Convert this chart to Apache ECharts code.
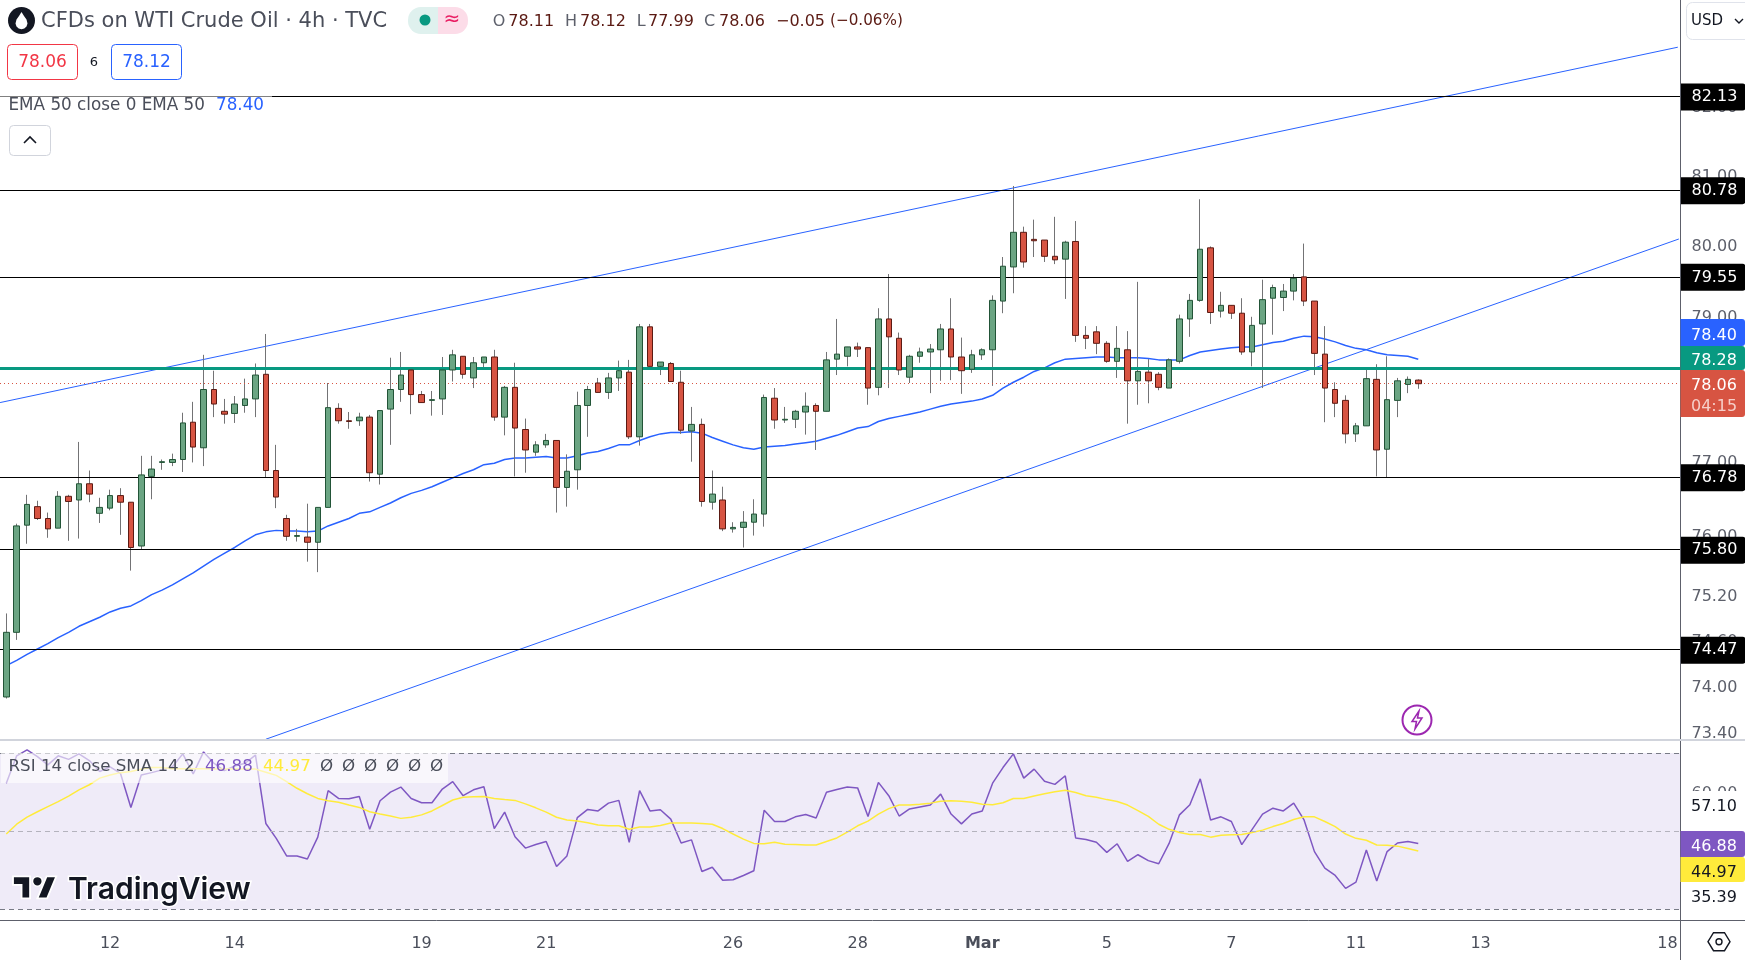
<!DOCTYPE html>
<html>
<head>
<meta charset="utf-8">
<title>CFDs on WTI Crude Oil</title>
<script src="https://cdn.jsdelivr.net/npm/echarts@6/dist/echarts.min.js"></script>
<style>
html, body { margin: 0; padding: 0; background: #fff; }
#chart { width: 1745px; height: 960px; }
</style>
</head>
<body>
<div id="chart"></div>
<script>
// open, close, low, high of each 4h bar
const candles = [
  [73.85,74.70,73.83,74.95],[74.70,76.12,74.60,76.15],[76.13,76.41,75.88,76.54],[76.38,76.22,76.20,76.46],
  [76.22,76.08,75.96,76.30],[76.09,76.52,76.09,76.59],[76.52,76.45,75.92,76.54],[76.47,76.69,75.95,77.26],
  [76.69,76.55,76.44,76.87],[76.29,76.37,76.16,76.50],[76.36,76.53,76.33,76.61],[76.53,76.44,76.00,76.63],
  [76.44,75.83,75.52,76.44],[75.85,76.81,75.80,77.07],[76.79,76.89,76.48,77.07],[76.98,76.99,76.88,77.02],
  [76.98,77.02,76.93,77.10],[77.02,77.52,76.85,77.66],[77.53,77.19,76.98,77.81],[77.18,77.98,76.93,78.46],
  [77.98,77.78,77.60,78.24],[77.68,77.64,77.51,77.85],[77.65,77.78,77.52,77.89],[77.76,77.85,77.66,78.13],
  [77.85,78.18,77.60,78.34],[78.19,76.87,76.77,78.75],[76.87,76.51,76.36,77.22],[76.22,75.98,75.92,76.27],
  [75.98,75.99,75.91,76.08],[75.97,75.90,75.64,76.42],[75.90,76.37,75.50,76.37],[76.37,77.73,76.37,78.07],
  [77.72,77.55,77.51,77.79],[77.55,77.54,77.44,77.67],[77.55,77.60,77.48,77.66],[77.60,76.84,76.72,77.63],
  [76.82,77.69,76.68,77.69],[77.71,77.98,77.22,78.42],[77.98,78.18,77.81,78.50],[78.25,77.91,77.64,78.25],
  [77.91,77.80,77.80,77.96],[77.83,77.84,77.62,77.96],[77.85,78.25,77.63,78.43],[78.25,78.46,78.09,78.53],
  [78.44,78.19,78.13,78.44],[78.14,78.35,78.00,78.43],[78.35,78.43,78.25,78.43],[78.43,77.60,77.55,78.53],
  [77.60,78.01,77.35,78.03],[78.01,77.45,76.79,78.35],[77.43,77.15,76.84,77.58],[77.12,77.22,77.07,77.27],
  [77.22,77.28,77.18,77.37],[77.28,76.64,76.30,77.28],[76.64,76.86,76.38,77.09],[76.88,77.76,76.61,77.95],
  [77.76,77.98,77.33,78.03],[78.07,77.94,77.94,78.14],[77.94,78.14,77.85,78.21],[78.14,78.24,77.96,78.38],
  [78.22,77.33,77.30,78.39],[77.33,78.85,77.21,78.89],[78.85,78.30,78.30,78.89],[78.30,78.36,78.18,78.36],
  [78.34,78.09,78.09,78.36],[78.08,77.42,77.37,78.24],[77.41,77.50,76.99,77.74],[77.50,76.45,76.38,77.58],
  [76.44,76.55,76.34,76.87],[76.47,76.08,76.05,76.65],[76.08,76.10,76.03,76.17],[76.10,76.17,75.83,76.32],
  [76.17,76.28,75.99,76.48],[76.28,77.87,76.11,77.91],[77.86,77.56,77.44,78.00],[77.56,77.57,77.52,77.74],
  [77.57,77.68,77.45,77.70],[77.67,77.75,77.36,77.94],[77.76,77.68,77.15,77.79],[77.68,78.39,77.68,78.50],
  [78.40,78.47,78.18,78.96],[78.44,78.57,78.30,78.57],[78.57,78.54,78.43,78.63],[78.56,78.00,77.77,78.56],
  [78.01,78.96,77.90,79.11],[78.96,78.71,78.00,79.59],[78.69,78.25,78.18,78.77],[78.15,78.44,78.07,78.46],
  [78.44,78.50,78.35,78.56],[78.50,78.54,77.93,78.61],[78.53,78.82,78.10,78.89],[78.82,78.43,78.11,79.25],
  [78.43,78.24,77.92,78.70],[78.26,78.46,78.21,78.53],[78.46,78.53,78.39,78.55],[78.53,79.22,78.03,79.29],
  [79.21,79.70,79.04,79.83],[79.69,80.18,79.32,80.84],[80.18,79.76,79.68,80.26],[80.08,80.06,79.83,80.36],
  [80.07,79.84,79.76,80.07],[79.84,79.79,79.73,80.40],[79.80,80.04,79.24,80.06],[80.05,78.73,78.64,80.34],
  [78.73,78.69,78.54,78.86],[78.78,78.62,78.47,78.86],[78.62,78.37,78.35,78.65],[78.37,78.55,78.14,78.86],
  [78.53,78.10,77.51,78.79],[78.10,78.23,77.77,79.48],[78.22,78.10,77.79,78.40],[78.19,78.01,77.97,78.22],
  [78.00,78.39,78.00,78.41],[78.37,78.96,78.34,79.02],[78.96,79.22,78.71,79.31],[79.22,79.94,79.20,80.65],
  [79.96,79.05,78.89,79.98],[79.07,79.15,78.98,79.34],[79.15,79.04,78.96,79.15],[79.04,78.50,78.46,79.25],
  [78.50,78.87,78.30,78.99],[78.89,79.23,78.00,79.51],[79.25,79.40,78.74,79.44],[79.26,79.35,79.07,79.45],
  [79.35,79.53,79.22,79.59],[79.55,79.21,79.14,80.02],[79.21,78.48,78.18,79.21],[78.47,78.00,77.53,78.86],
  [77.98,77.79,77.60,78.08],[77.83,77.37,77.24,77.90],[77.37,77.48,77.26,77.52],[77.48,78.13,77.48,78.29],
  [78.12,77.15,76.79,78.33],[77.16,77.84,76.77,78.44],[77.83,78.10,77.60,78.14],[78.05,78.12,77.93,78.16],
  [78.11,78.06,77.99,78.12]
];

const ema50 = [
  74.26,74.33,74.41,74.48,74.55,74.63,74.70,74.78,74.84,74.90,74.97,75.02,75.05,75.12,75.20,75.26,
  75.33,75.41,75.49,75.58,75.67,75.75,75.83,75.92,76.00,76.04,76.06,76.05,76.05,76.04,76.05,76.12,
  76.17,76.22,76.29,76.31,76.37,76.43,76.50,76.56,76.60,76.65,76.71,76.77,76.83,76.88,76.95,76.97,
  77.02,77.04,77.04,77.05,77.06,77.04,77.04,77.07,77.11,77.13,77.17,77.22,77.22,77.28,77.33,77.37,
  77.39,77.39,77.40,77.38,77.32,77.27,77.22,77.18,77.16,77.19,77.20,77.21,77.23,77.25,77.27,77.31,
  77.35,77.40,77.45,77.47,77.54,77.58,77.61,77.64,77.67,77.71,77.75,77.78,77.80,77.82,77.85,77.90,
  78.00,78.08,78.15,78.23,78.28,78.35,78.40,78.41,78.42,78.43,78.43,78.42,78.42,78.42,78.41,78.39,
  78.39,78.39,78.45,78.50,78.52,78.54,78.56,78.57,78.57,78.60,78.63,78.65,78.69,78.72,78.71,78.68,
  78.64,78.59,78.55,78.53,78.49,78.46,78.45,78.44,78.40
];

const rsi14 = [
  62.3,69.3,70.8,69.1,67.0,69.3,68.4,69.8,68.1,65.3,66.5,64.8,56.1,64.4,65.0,65.7,
  66.5,69.8,64.7,70.3,67.4,65.5,66.7,67.4,69.5,52.0,48.2,43.7,43.7,42.9,48.5,60.4,
  58.4,58.3,58.9,50.5,57.8,60.0,61.3,58.4,57.3,57.3,60.8,62.7,59.1,60.6,61.4,50.7,
  54.9,48.6,45.7,46.6,47.4,41.0,43.7,53.5,55.6,55.2,57.2,57.9,47.2,60.4,55.2,55.5,
  53.1,47.0,47.8,39.7,40.8,37.5,37.6,38.7,39.9,55.4,52.5,52.5,53.7,54.3,53.4,60.0,
  60.7,61.3,61.1,53.8,62.5,59.1,53.9,55.7,56.2,56.7,59.5,54.4,51.9,54.4,55.2,62.3,
  66.3,69.8,63.6,65.9,62.8,62.0,64.2,48.3,47.9,47.2,44.6,46.8,42.3,44.0,42.5,41.7,
  46.9,54.2,56.8,63.4,52.9,53.7,52.5,46.6,50.5,54.4,55.9,55.2,57.2,52.9,44.8,40.6,
  38.7,35.4,37.0,45.2,37.3,44.8,47.0,47.4,46.88
];

const rsiSma = [
  49.3,51.8,53.6,55.0,56.3,57.6,59.0,60.6,61.9,63.6,64.4,65.0,65.3,65.9,66.3,66.3,
  66.0,66.0,66.0,66.0,65.9,65.9,65.9,65.9,65.9,65.1,64.3,62.7,61.0,59.6,58.4,57.8,
  57.4,56.7,56.1,55.0,54.4,53.9,53.3,53.6,54.2,55.2,56.6,58.0,58.7,58.8,58.9,58.4,
  58.1,57.9,57.0,56.0,54.9,53.6,52.9,52.6,52.2,51.6,51.4,51.4,50.5,51.1,51.1,51.5,
  52.1,52.1,52.1,52.0,51.8,50.7,49.3,48.0,46.9,46.8,47.2,46.7,46.6,46.5,46.5,47.4,
  48.3,49.8,51.4,52.6,54.4,55.8,56.7,56.7,56.9,57.2,57.7,57.8,57.7,57.4,56.9,56.8,
  57.3,58.4,58.4,59.0,59.6,60.1,60.5,59.9,59.1,58.7,58.1,57.6,56.7,55.3,53.8,51.8,
  50.5,49.7,49.2,49.2,48.5,49.0,49.1,49.2,49.7,50.3,51.2,52.0,53.0,53.7,53.7,52.5,
  51.2,49.3,48.2,47.7,46.5,46.4,46.2,45.6,44.97
];

const supportLevels = [82.13, 80.78, 79.55, 76.78, 75.80, 74.47];
const pivotLevel = 78.28;
const lastPrice = 78.06;
const priceTicks = [82, 81, 80, 79, 77, 76, 75.2, 74.6, 74, 73.4];
const rsiTicks = [60];
const rsiBands = [70, 50, 30];

// channel lines, [bar index, price]
const channelUpper = [[-0.6, 77.80], [161, 82.85]];
const channelLower = [[25, 73.30], [161.1, 80.085]];

const timeTickBars = [10, 22, 40, 52, 70, 82, 94, 106, 118, 130, 142, 160];
const timeTickText = ['12', '14', '19', '21', '26', '28', 'Mar', '5', '7', '11', '13', '18'];

const FONT = '"DejaVu Sans", sans-serif';
const X_MIN = -0.607;
const X_MAX = 161.21;
const chart = echarts.init(document.getElementById('chart'));

function txt(text, x, y, fill, size, align, z) {
  // DejaVu sits a little high when centred, so nudge it down
  return {
    type: 'text', x: x, y: y + 3, z: z || 110, silent: true,
    style: { text: text, fill: fill, font: (size || 16) + 'px ' + FONT, align: align || 'left', verticalAlign: 'middle' }
  };
}
function box(x, y, w, h, fill, stroke, r, z) {
  return {
    type: 'rect', z: z || 100, silent: true,
    shape: { x: x, y: y, width: w, height: h, r: r || 0 },
    style: { fill: fill, stroke: stroke || null, lineWidth: stroke ? 1 : 0 }
  };
}
function rule(x1, y1, x2, y2, color, width, z) {
  return {
    type: 'line', z: z || 90, silent: true,
    shape: { x1: x1, y1: y1, x2: x2, y2: y2 },
    style: { stroke: color, lineWidth: width }
  };
}
function poly(kind, pts, x, y, style, z, scale) {
  return {
    type: kind, z: z || 110, silent: true, x: x, y: y, scaleX: scale || 1, scaleY: scale || 1,
    shape: { points: pts }, style: style
  };
}
function tag(text, top, h, bg, fg) {
  return [
    box(1680.5, top, 64.5, h, bg, null, [0, 3, 3, 0]),
    txt(text, 1691, top + h / 2, fg)
  ];
}
// labels hung on the right edge of a pane, placed by the y scale
function edgeLabels(name, axisIndex, values, z, label) {
  return {
    name: name, type: 'scatter', xAxisIndex: axisIndex, yAxisIndex: axisIndex, z: z, silent: true, clip: false,
    symbolSize: 1, itemStyle: { color: 'rgba(0,0,0,0)', opacity: 1 },
    label: Object.assign({ show: true, position: 'right', distance: 0, fontSize: 16, fontFamily: FONT, formatter: '{b}' }, label),
    data: values.map(function (v) { return { value: [X_MAX, v], name: v.toFixed(2) }; })
  };
}

const chrome = [].concat(
  // axes and pane borders
  rule(1680.5, 0, 1680.5, 960, '#5d606b', 1),
  rule(0, 740, 1745, 740, '#d1d4dc', 2),
  rule(0, 920.5, 1745, 920.5, '#5d606b', 1),

  // header
  { type: 'circle', z: 110, silent: true, shape: { cx: 21.5, cy: 20.5, r: 13.5 }, style: { fill: '#131722' } },
  poly('polygon', [[0, -9], [2.5, -5], [5, -1.5], [6, 2.5], [5, 5.5], [2.8, 7.5], [0, 8.3], [-2.8, 7.5], [-5, 5.5], [-6, 2.5], [-5, -1.5], [-2.5, -5]], 21.5, 21, { fill: '#fff' }),
  txt('CFDs on WTI Crude Oil \u00b7 4h \u00b7 TVC', 41, 19, '#4a4e5a', 21),
  box(408, 7, 30, 27, '#dff1ee', null, [13, 0, 0, 13]),
  box(438, 7, 30, 27, '#fcdce8', null, [0, 13, 13, 0]),
  { type: 'circle', z: 110, silent: true, shape: { cx: 425, cy: 20, r: 5.5 }, style: { fill: '#089981' } },
  txt('\u2248', 452, 17, '#e91e63', 20, 'center'),
  txt('O', 492.7, 18.5, '#5d606b'), txt('78.11', 508.3, 18.5, '#5b1a13'),
  txt('H', 565, 18.5, '#5d606b'), txt('78.12', 580, 18.5, '#5b1a13'),
  txt('L', 636.7, 18.5, '#5d606b'), txt('77.99', 648, 18.5, '#5b1a13'),
  txt('C', 704, 18.5, '#5d606b'), txt('78.06', 719, 18.5, '#5b1a13'),
  txt('\u22120.05', 776, 18.5, '#5b1a13'), txt('(\u22120.06%)', 830, 18.5, '#5b1a13', 15.2),
  box(7.5, 44.5, 70, 35, '#fff', '#f23645', 4),
  txt('78.06', 42.5, 59.5, '#f23645', 17, 'center'),
  txt('6', 94, 59.5, '#131722', 13, 'center'),
  box(111.5, 44.5, 70, 35, '#fff', '#2962ff', 4),
  txt('78.12', 146.5, 59.5, '#2962ff', 17, 'center'),

  // indicator legend sits on a veil over the 82.13 line
  box(0, 90, 272, 28, 'rgba(255,255,255,0.5)'),
  txt('EMA 50 close 0 EMA 50', 8.5, 102.5, '#4a4e5a', 16.8),
  txt('78.40', 216, 102.5, '#2962ff', 16.8),
  box(9.5, 125.5, 41, 30, '#fff', '#d1d4dc', 4),
  poly('polyline', [[-6, 3], [0, -3], [6, 3]], 30, 140, { fill: null, stroke: '#131722', lineWidth: 1.6 }),

  // currency selector
  box(1686.5, 2.5, 70, 37, '#fff', '#e0e3eb', 6),
  txt('USD', 1691, 18.5, '#131722', 15),
  poly('polyline', [[-4, -2], [0, 2], [4, -2]], 1739, 21, { fill: null, stroke: '#131722', lineWidth: 1.4 }),

  // price tags that were pushed off their value by their neighbours
  tag('78.40', 319, 27, '#2962ff', '#fff'),
  tag('78.28', 346, 24, '#089981', '#fff'),
  box(1680.5, 370, 64.5, 47, '#d75442', null, [0, 3, 3, 0]),
  txt('78.06', 1691, 383, '#fff'),
  txt('04:15', 1691, 403.5, '#f6cfc9'),

  // lightning badge
  { type: 'circle', z: 110, silent: true, shape: { cx: 1417, cy: 720, r: 14.5 }, style: { fill: '#fff', stroke: '#9c27b0', lineWidth: 2 } },
  poly('polygon', [[2, -9], [-5, 1.5], [-0.5, 1.5], [-2, 9], [5, -2], [0.5, -2]], 1417, 720, { fill: null, stroke: '#9c27b0', lineWidth: 1.5 }),

  // rsi legend
  box(1, 753, 447, 30, 'rgba(255,255,255,0.6)'),
  txt('RSI 14 close SMA 14 2', 8.5, 764, '#4a4e5a', 16.7),
  txt('46.88', 205, 764, '#7e57c2', 16.7),
  txt('44.97', 263, 764, '#ffeb3b', 16.7),
  [0, 1, 2, 3, 4, 5].map(function (n) { return txt('\u00d8', 320 + n * 22, 764, '#4a4e5a', 16.7); }),

  // rsi tags
  tag('46.88', 831, 26, '#7e57c2', '#fff'),
  tag('44.97', 857, 25, '#ffeb3b', '#131722'),
  box(1681, 791, 64, 27, '#fff'),
  txt('57.10', 1691, 803.5, '#131722'),
  box(1681, 882, 64, 27, '#fff'),
  txt('35.39', 1691, 894.5, '#131722'),

  // watermark
  poly('polygon', [[0, 4], [14, 4], [14, 22], [7, 22], [7, 11], [0, 11]], 13, 871.5, { fill: '#131722', stroke: '#fff', lineWidth: 1.5 }, 105, 1.22),
  poly('polygon', [[20, 22], [27.5, 4], [35.5, 4], [28, 22]], 13, 871.5, { fill: '#131722', stroke: '#fff', lineWidth: 1.5 }, 105, 1.22),
  { type: 'circle', z: 105, silent: true, shape: { cx: 37.4, cy: 881.3, r: 4.9 }, style: { fill: '#131722', stroke: '#fff', lineWidth: 1.5 } },
  {
    type: 'text', x: 68, y: 890, z: 105, silent: true,
    style: { text: 'TradingView', fill: '#131722', stroke: '#fff', lineWidth: 3, font: '600 30px Inter, sans-serif', align: 'left', verticalAlign: 'middle' }
  },

  // settings hexagon
  poly('polygon', [[-11, 0], [-5.5, -9], [5.5, -9], [11, 0], [5.5, 9], [-5.5, 9]], 1719, 941.7, { fill: null, stroke: '#131722', lineWidth: 1.4 }),
  { type: 'circle', z: 110, silent: true, shape: { cx: 1719, cy: 941.7, r: 3 }, style: { fill: null, stroke: '#131722', lineWidth: 1.4 } }
);

const option = {
  animation: false,
  backgroundColor: '#ffffff',
  textStyle: { fontFamily: FONT },
  grid: [
    { left: 0, top: 0, width: 1680, height: 740 },
    { left: 0, top: 741, width: 1680, height: 179 }
  ],
  xAxis: [
    { type: 'value', gridIndex: 0, min: X_MIN, max: X_MAX, show: false, splitLine: { show: false } },
    {
      type: 'value', gridIndex: 1, min: X_MIN, max: X_MAX,
      axisLine: { show: false }, axisTick: { show: false }, splitLine: { show: false },
      axisLabel: {
        customValues: timeTickBars,
        margin: 16,
        fontSize: 16,
        color: '#4a4e5a',
        formatter: function (v) {
          const s = timeTickText[timeTickBars.indexOf(v)];
          return s === 'Mar' ? '{m|Mar}' : s;
        },
        rich: { m: { fontSize: 16, fontWeight: 'bold', color: '#4a4e5a', fontFamily: FONT } }
      }
    }
  ],
  yAxis: [
    { type: 'log', logBase: 10, gridIndex: 0, min: 73.29, max: 83.545, show: false, splitLine: { show: false } },
    { type: 'value', gridIndex: 1, min: 27.31, max: 73.09, show: false, splitLine: { show: false } }
  ],
  graphic: { elements: chrome },
  series: [
    edgeLabels('Price ticks', 0, priceTicks, 1, { color: '#5d606b', offset: [11, 2] }),
    edgeLabels('RSI ticks', 1, rsiTicks, 1, { color: '#5d606b', offset: [11, 2] }),
    edgeLabels('Level tags', 0, supportLevels, 6, {
      color: '#fff', backgroundColor: '#000000', borderRadius: [0, 3, 3, 0],
      padding: [6, 0, 3, 10.5], width: 54, lineHeight: 18, offset: [0.5, 0.5]
    }),
    {
      name: 'Levels', type: 'line', xAxisIndex: 0, yAxisIndex: 0, z: 2, silent: true, data: [],
      markLine: {
        silent: true, symbol: 'none', animation: false,
        label: { show: false },
        lineStyle: { color: '#000000', width: 1, type: 'solid' },
        data: supportLevels.map(function (v) { return { yAxis: v }; })
      }
    },
    {
      name: 'Pivot', type: 'line', xAxisIndex: 0, yAxisIndex: 0, z: 2, silent: true, data: [],
      markLine: {
        silent: true, symbol: 'none', animation: false,
        label: { show: false },
        data: [
          { yAxis: pivotLevel, lineStyle: { color: '#089981', width: 3, type: 'solid' } },
          { yAxis: lastPrice, lineStyle: { color: '#d75442', width: 1, type: [1, 3] } }
        ]
      }
    },
    {
      name: 'Channel upper', type: 'line', xAxisIndex: 0, yAxisIndex: 0, z: 2, silent: true,
      showSymbol: false, data: channelUpper, lineStyle: { color: '#2962ff', width: 1 }
    },
    {
      name: 'Channel lower', type: 'line', xAxisIndex: 0, yAxisIndex: 0, z: 2, silent: true,
      showSymbol: false, data: channelLower, lineStyle: { color: '#2962ff', width: 1 }
    },
    {
      name: 'EMA 50', type: 'line', xAxisIndex: 0, yAxisIndex: 0, z: 3, silent: true,
      showSymbol: false, data: ema50.map(function (v, i) { return [i, v]; }),
      lineStyle: { color: '#2962ff', width: 1.5 }
    },
    {
      // thin gray full-range bars act as the wicks
      name: 'Wicks', type: 'candlestick', xAxisIndex: 0, yAxisIndex: 0, z: 4, silent: true,
      barWidth: 0.5,
      itemStyle: { color: '#737375', color0: '#737375', borderColor: '#737375', borderColor0: '#737375', borderWidth: 1 },
      data: candles.map(function (c, i) { return [i, c[0], c[1], c[2], c[3]]; })
    },
    {
      name: 'CFDs on WTI Crude Oil', type: 'candlestick', xAxisIndex: 0, yAxisIndex: 0, z: 5, silent: true,
      barWidth: 6,
      itemStyle: { color: '#6ba583', color0: '#d75442', borderColor: '#225437', borderColor0: '#5b1a13', borderWidth: 1 },
      data: candles.map(function (c, i) {
        return [i, c[0], c[1], Math.min(c[0], c[1]), Math.max(c[0], c[1])];
      })
    },
    {
      name: 'RSI', type: 'line', xAxisIndex: 1, yAxisIndex: 1, z: 3, silent: true,
      showSymbol: false, data: rsi14.map(function (v, i) { return [i, v]; }),
      lineStyle: { color: '#7e57c2', width: 1.5 },
      markArea: {
        silent: true, animation: false,
        itemStyle: { color: 'rgba(126,87,194,0.12)' },
        data: [[{ yAxis: rsiBands[0] }, { yAxis: rsiBands[2] }]]
      },
      markLine: {
        silent: true, symbol: 'none', animation: false, label: { show: false },
        data: [
          { yAxis: rsiBands[0], lineStyle: { color: '#787b86', width: 1, type: [5, 4] } },
          { yAxis: rsiBands[1], lineStyle: { color: '#b4b3bd', width: 1, type: [5, 4] } },
          { yAxis: rsiBands[2], lineStyle: { color: '#787b86', width: 1, type: [5, 4] } }
        ]
      }
    },
    {
      name: 'RSI SMA', type: 'line', xAxisIndex: 1, yAxisIndex: 1, z: 3, silent: true,
      showSymbol: false, data: rsiSma.map(function (v, i) { return [i, v]; }),
      lineStyle: { color: '#ffeb3b', width: 1.5 }
    }
  ]
};

chart.setOption(option);
</script>
</body>
</html>
